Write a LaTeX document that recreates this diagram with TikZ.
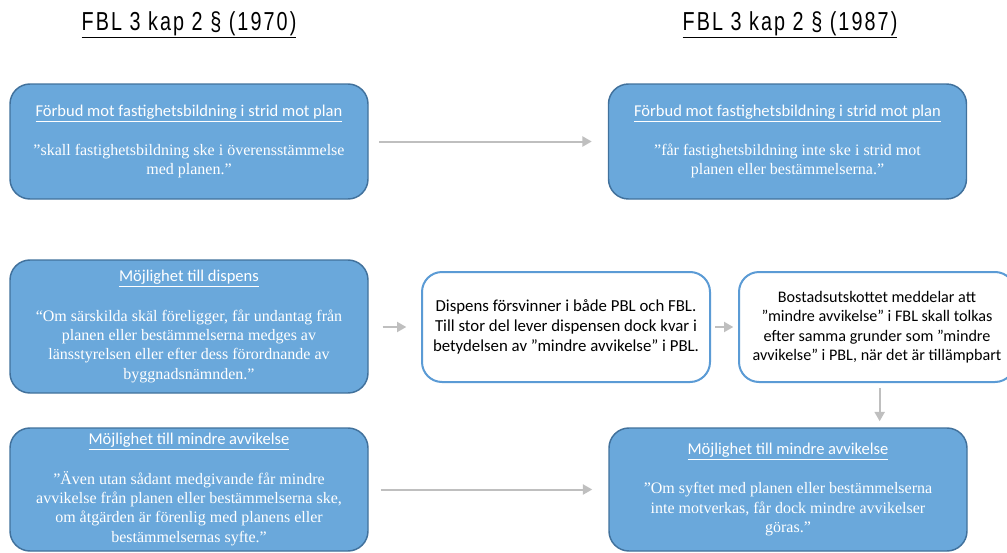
\documentclass[tikz,border=0pt]{standalone}
\usepackage{fontspec}
\setmainfont{Liberation Serif}
\newfontfamily\calfont{Carlito}
\newfontfamily\titlefont[FakeStretch=0.76,LetterSpace=8]{Liberation Sans}
\usetikzlibrary{arrows.meta}
\definecolor{boxblue}{RGB}{106,168,219}
\definecolor{boxedge}{RGB}{65,113,156}
\definecolor{lineblue}{RGB}{91,155,213}
\definecolor{arrowgray}{RGB}{191,191,191}
\newcommand{\headline}[1]{{\calfont\fontsize{12.4}{14.25}\selectfont\underline{#1}}}

\begin{document}
\begin{tikzpicture}[x=0.75pt,y=0.75pt]
		\tikzstyle{every node}+=[inner sep=0pt]
		\tikzstyle{law}=[draw=boxedge, fill=boxblue, line width=1.1pt, rounded corners=15, text=white, align=center, minimum width=268.5pt, font=\fontsize{12}{14.5}\selectfont]
		\tikzstyle{note}=[draw=lineblue, fill=white, line width=1.5pt, rounded corners=15, align=center, minimum height=82.5pt, font=\calfont\fontsize{12.6}{15}\selectfont]
		\tikzstyle{heading}=[font=\titlefont\fontsize{19.5}{22}\selectfont]
		\tikzstyle{link}=[draw=arrowgray, line width=1.5pt, -{Triangle[length=7pt,width=7.5pt]}]
		\useasboundingbox (0,0) rectangle (1007,-553);
		% titles
		\node [heading] (old) at (189,-25) {\underline{FBL 3 kap 2 § (1970)}};
		\node [heading] (new) at (790,-25) {\underline{FBL 3 kap 2 § (1987)}};
		% 1970
		\node [law, minimum height=86.25pt] (plan70) at (189,-141.5) {\headline{Förbud mot fastighetsbildning i strid mot plan}\\[15pt]
			”skall fastighetsbildning ske i överensstämmelse\\ med planen.”};
		\node [law, minimum height=99.75pt] (disp70) at (189,-326.5) {\headline{Möjlighet till dispens}\\[15pt]
			“Om särskilda skäl föreligger, får undantag från\\ planen eller bestämmelserna medges av\\ länsstyrelsen eller efter dess förordnande av\\ byggnadsnämnden.”};
		\node [law, minimum height=92.25pt] (avv70) at (189,-489.5) {\headline{Möjlighet till mindre avvikelse}\\[15pt]
			”Även utan sådant medgivande får mindre\\ avvikelse från planen eller bestämmelserna ske,\\ om åtgärden är förenlig med planens eller\\ bestämmelsernas syfte.”};
		% 1987
		\node [law, minimum height=86.25pt] (plan87) at (787.5,-141.5) {\headline{Förbud mot fastighetsbildning i strid mot plan}\\[15pt]
			”får fastighetsbildning inte ske i strid mot\\ planen eller bestämmelserna.”};
		\node [note, minimum width=216pt] (gone) at (566,-327) {Dispens försvinner i både PBL och FBL.\\ Till stor del lever dispensen dock kvar i\\ betydelsen av ”mindre avvikelse” i PBL.};
		\node [note, minimum width=207pt, font=\calfont\fontsize{12.1}{14.6}\selectfont] (utsk) at (877,-327) {Bostadsutskottet meddelar att\\ ”mindre avvikelse” i FBL skall tolkas\\ efter samma grunder som ”mindre\\ avvikelse” i PBL, när det är tillämpbart};
		\node [law, minimum height=92.25pt] (avv87) at (788,-489.5) {\headline{Möjlighet till mindre avvikelse}\\[15pt]
			”Om syftet med planen eller bestämmelserna\\ inte motverkas, får dock mindre avvikelser\\ göras.”};
		% arrows
		\draw [link, shorten <=8pt, shorten >=12pt] (plan70) -- (plan87);
		\draw [link, shorten <=10.5pt, shorten >=11pt] (disp70.east |- gone.west) -- (gone.west);
		\draw [link, shorten <=3pt, shorten >=3.5pt] (gone) -- (utsk);
		\draw [link, shorten <=4pt, shorten >=4.5pt] ([xshift=2pt]utsk.south) -- ([xshift=2pt]utsk.south |- avv87.north);
		\draw [link, shorten <=9pt, shorten >=12pt] (avv70) -- (avv87);
\end{tikzpicture}
\end{document}
